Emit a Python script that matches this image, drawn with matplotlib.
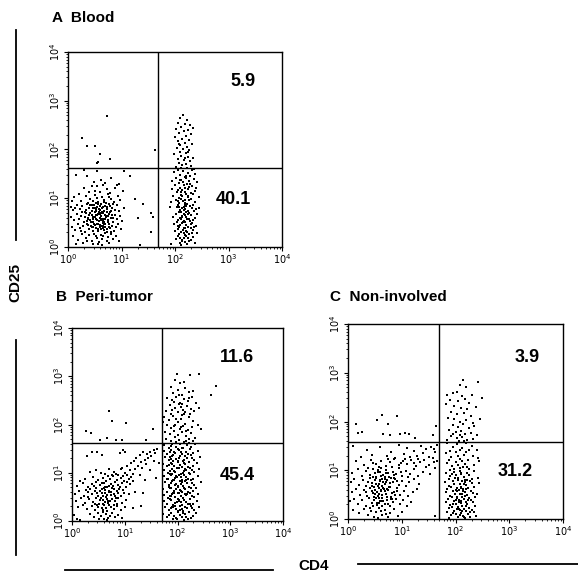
import numpy as np
import matplotlib
matplotlib.use("Agg")
import matplotlib.pyplot as plt
from matplotlib.ticker import FixedLocator, LogLocator, NullFormatter

plt.rcParams['font.family'] = ['Liberation Sans', 'DejaVu Sans']

# ---------------- data (log10 decades: CD4, CD25) ----------------
panel_letters = ["A", "B", "C"]
panel_names = ["Blood", "Peri-tumor", "Non-involved"]
quadrant_upper = ["5.9", "11.6", "3.9"]
quadrant_lower = ["40.1", "45.4", "31.2"]
gate_cd4 = [1.68, 1.71, 1.69]
gate_cd25 = [1.62, 1.62, 1.58]
tick_labels = [r"$10^{0}$", r"$10^{1}$", r"$10^{2}$", r"$10^{3}$", r"$10^{4}$"]
x_label = "CD4"
y_label = "CD25"

a_neg = [(0.35,1.45),(0.62,1.38),(0.48,1.33),(0.80,1.41),(0.15,1.47),(0.95,1.30),(1.15,1.46),(0.70,1.32),
 (0.55,1.25),(0.72,1.18),(0.40,1.12),(0.88,1.22),(0.65,1.28),(0.30,1.20),(0.78,1.10),(0.50,1.15),(1.02,1.14),(0.60,1.12),(0.92,1.27),(0.45,1.26),
 (0.12,1.02),(0.25,0.95),(0.33,1.05),(0.42,0.98),(0.50,1.07),(0.57,0.93),(0.63,1.03),(0.68,0.96),(0.74,1.08),(0.80,0.99),(0.86,0.92),(0.93,1.04),(0.20,1.08),(0.38,0.91),(0.47,0.94),(0.55,1.00),(0.71,0.91),(0.77,1.02),(0.08,0.94),(0.98,0.97),(1.25,0.98),(1.40,0.88),
 (0.05,0.82),(0.10,0.75),(0.16,0.87),(0.22,0.78),(0.27,0.84),(0.31,0.72),(0.36,0.88),(0.40,0.80),(0.44,0.73),(0.48,0.86),(0.52,0.77),(0.55,0.83),(0.58,0.71),(0.61,0.88),(0.64,0.79),(0.67,0.74),(0.70,0.85),(0.73,0.78),(0.76,0.89),(0.79,0.72),(0.83,0.81),(0.87,0.76),(0.91,0.86),(0.96,0.73),(1.04,0.80),(0.34,0.76),(0.46,0.79),(0.57,0.89),(0.66,0.82),(0.72,0.71),(0.60,0.76),(0.50,0.72),(0.42,0.86),(0.26,0.71),(0.13,0.80),(0.85,0.88),(1.55,0.70),
 (0.06,0.62),(0.11,0.55),(0.17,0.67),(0.21,0.58),(0.25,0.64),(0.29,0.52),(0.33,0.69),(0.37,0.60),(0.41,0.55),(0.44,0.66),(0.47,0.51),(0.50,0.62),(0.53,0.57),(0.56,0.68),(0.58,0.53),(0.61,0.64),(0.63,0.58),(0.66,0.69),(0.68,0.51),(0.71,0.62),(0.74,0.56),(0.77,0.67),(0.81,0.59),(0.84,0.52),(0.88,0.65),(0.92,0.57),(0.97,0.63),(1.01,0.54),(0.39,0.65),(0.52,0.66),(0.59,0.60),(0.65,0.54),(0.70,0.57),(0.46,0.58),(0.31,0.61),(0.75,0.63),(0.55,0.55),(0.62,0.69),(0.43,0.52),(0.82,0.66),(0.35,0.54),(1.30,0.60),
 (0.08,0.42),(0.14,0.35),(0.19,0.47),(0.23,0.38),(0.28,0.44),(0.32,0.31),(0.36,0.48),(0.40,0.36),(0.43,0.43),(0.47,0.33),(0.50,0.46),(0.53,0.39),(0.56,0.32),(0.59,0.45),(0.62,0.37),(0.65,0.49),(0.67,0.34),(0.70,0.42),(0.73,0.30),(0.76,0.47),(0.79,0.38),(0.83,0.44),(0.86,0.33),(0.90,0.41),(0.94,0.48),(0.99,0.36),(0.54,0.48),(0.60,0.41),(0.66,0.43),(0.72,0.36),(0.45,0.40),(0.38,0.45),(0.57,0.35),(0.68,0.47),(0.25,0.33),(0.81,0.31),
 (0.10,0.22),(0.18,0.15),(0.26,0.26),(0.33,0.18),(0.39,0.24),(0.44,0.12),(0.49,0.27),(0.54,0.19),(0.58,0.11),(0.61,0.25),(0.64,0.17),(0.69,0.28),(0.72,0.13),(0.75,0.21),(0.80,0.26),(0.85,0.16),(0.90,0.23),(0.96,0.12),(0.52,0.23),(0.66,0.22),(0.36,0.13),(0.28,0.08),(0.57,0.06),(0.77,0.09),(0.64,0.05),(0.47,0.07),(0.15,0.06),(1.35,0.04),
 (0.73,2.69),(0.27,2.24),(0.36,2.07),(0.50,2.07),(0.60,1.91),(0.79,1.81),(0.54,1.72),(0.57,1.74),(1.63,1.99),(0.55,1.55),(0.30,1.58),(1.05,1.55),(1.59,0.62),(1.55,0.30)]

a_core = [(0.47,0.62),(0.58,0.78),(0.63,0.44),(0.69,0.66),(0.52,0.91),(0.74,0.52),(0.41,0.70),(0.56,0.37),(0.81,0.73),(0.66,0.58),(0.60,0.84),(0.49,0.48),(0.72,0.82),(0.54,0.65),(0.77,0.41),(0.44,0.87),(0.62,0.55),(0.68,0.93),(0.37,0.57),(0.85,0.60),(0.57,0.47),(0.64,0.71),(0.51,0.79),(0.73,0.63),(0.46,0.42),(0.79,0.85),(0.59,0.67),(0.70,0.48),(0.53,0.73),(0.65,0.38),
 (2.12,1.13),(2.19,0.97),(2.08,0.83),(2.25,0.68),(2.15,0.51),(2.21,0.33),(2.10,0.19),(2.27,1.24),(2.17,0.75),(2.06,0.44),(2.23,0.89),(2.13,0.62),(2.29,0.48),(2.18,0.24),(2.09,1.37),(2.24,1.05),(2.16,0.38),(2.11,0.71),(2.26,0.57),(2.20,1.41),(2.14,0.13),(2.05,0.95),(2.31,0.29),(2.19,0.86)]

a_pos = [(2.15,2.70),(2.10,2.64),(2.22,2.60),(2.05,2.55),(2.18,2.52),(2.28,2.50),(2.12,2.46),(2.02,2.42),(2.24,2.40),(2.16,2.37),(2.08,2.33),(2.30,2.31),(2.20,2.28),(2.00,2.25),(2.13,2.22),(2.26,2.20),(2.06,2.17),(2.18,2.14),(2.32,2.12),(2.10,2.09),(2.22,2.06),(2.03,2.03),(2.15,2.00),(2.27,1.98),(2.09,1.95),(2.20,1.92),(1.98,1.90),(2.12,1.87),(2.24,1.85),(2.34,1.83),(2.05,1.80),(2.17,1.78),(2.28,1.76),(2.08,1.73),(2.20,1.71),(2.14,1.69),(2.30,1.67),(2.02,1.65),(2.23,1.63),(2.11,1.62),(2.36,1.61),(2.19,1.82),(2.25,1.94),(2.07,2.12),(2.33,2.44),
 (2.05,1.58),(2.15,1.55),(2.25,1.52),(2.32,1.57),(2.10,1.48),(2.20,1.46),(2.38,1.50),(1.98,1.53),(2.28,1.45),
 (2.02,1.42),(2.12,1.38),(2.18,1.43),(2.26,1.35),(2.35,1.40),(2.08,1.32),(2.22,1.30),(2.42,1.33),(1.95,1.36),(2.15,1.34),
 (2.00,1.27),(2.09,1.22),(2.16,1.28),(2.24,1.18),(2.31,1.25),(2.40,1.20),(2.05,1.16),(2.19,1.21),(2.28,1.29),(2.13,1.17),(1.94,1.19),
 (2.03,1.12),(2.11,1.06),(2.18,1.13),(2.25,1.02),(2.33,1.09),(2.07,1.01),(2.21,1.08),(2.37,1.14),(2.14,1.04),(2.29,1.11),(1.97,1.05),(2.44,1.03),
 (2.01,0.97),(2.08,0.90),(2.15,0.95),(2.22,0.88),(2.30,0.99),(2.38,0.92),(2.05,0.86),(2.18,0.91),(2.26,0.96),(2.12,0.98),(2.34,0.87),(1.92,0.93),(2.20,0.85),
 (2.04,0.82),(2.10,0.76),(2.17,0.83),(2.24,0.74),(2.31,0.80),(2.40,0.77),(2.07,0.71),(2.14,0.79),(2.21,0.72),(2.28,0.84),(2.36,0.73),(1.90,0.82),(2.19,0.78),(2.45,0.81),
 (2.02,0.67),(2.09,0.60),(2.16,0.68),(2.23,0.57),(2.30,0.65),(2.38,0.59),(2.06,0.56),(2.13,0.64),(2.20,0.61),(2.27,0.69),(2.34,0.55),(1.96,0.62),(2.18,0.66),(2.42,0.67),(2.11,0.58),
 (2.03,0.52),(2.10,0.45),(2.17,0.53),(2.24,0.42),(2.31,0.50),(2.39,0.44),(2.07,0.41),(2.14,0.49),(2.21,0.46),(2.28,0.54),(2.35,0.40),(1.99,0.47),(2.19,0.51),
 (2.05,0.37),(2.12,0.30),(2.19,0.38),(2.26,0.27),(2.33,0.35),(2.41,0.29),(2.08,0.26),(2.15,0.34),(2.22,0.31),(2.29,0.39),(2.00,0.32),(2.17,0.28),
 (2.06,0.22),(2.13,0.15),(2.20,0.23),(2.27,0.12),(2.34,0.20),(2.09,0.08),(2.16,0.19),(2.23,0.06),(2.30,0.14),(2.02,0.17),(2.38,0.09),(2.18,0.11),(2.11,0.04),(2.25,0.18),(1.93,0.07)]

b_neg = [(0.70,2.28),(0.76,2.07),(1.02,2.03),(0.27,1.87),(0.36,1.82),(0.53,1.68),(0.66,1.72),(0.83,1.68),(0.95,1.68),(1.40,1.68),(1.54,1.91),
 (1.62,1.50),(1.55,1.47),(1.48,1.44),(1.58,1.40),(1.42,1.38),(1.35,1.42),(1.50,1.35),(1.28,1.36),(1.45,1.30),(1.38,1.27),(1.22,1.31),(1.30,1.22),(1.18,1.25),(1.55,1.25),(1.12,1.20),(1.25,1.15),(1.40,1.18),(1.05,1.13),(1.20,1.08),(1.33,1.10),(1.10,1.05),(1.00,1.00),(1.15,0.97),(1.48,1.05),(1.60,0.90),(1.28,0.95),(0.95,1.10),(1.38,0.85),(1.65,1.20),
 (0.38,1.43),(0.47,1.43),(0.57,1.37),(0.91,1.40),(0.96,1.48),(1.00,1.44),(0.28,1.35),
 (0.45,1.05),(0.62,0.98),(0.70,1.08),(0.80,1.02),(0.88,0.96),(0.55,1.00),(0.92,1.08),(0.75,0.95),(0.35,1.02),(1.05,0.96),
 (0.25,0.88),(0.40,0.92),(0.50,0.85),(0.58,0.90),(0.65,0.82),(0.72,0.88),(0.78,0.93),(0.85,0.84),(0.92,0.89),(0.98,0.82),(1.08,0.88),(0.45,0.81),(0.68,0.94),(0.82,0.80),(0.15,0.83),(1.15,0.83),
 (0.10,0.72),(0.20,0.78),(0.30,0.70),(0.38,0.76),(0.46,0.68),(0.53,0.75),(0.60,0.79),(0.66,0.70),(0.73,0.77),(0.80,0.67),(0.87,0.74),(0.94,0.79),(1.02,0.70),(0.57,0.66),(0.70,0.73),(0.42,0.72),(0.90,0.66),(0.35,0.66),(1.10,0.76),(0.62,0.71),(0.77,0.72),
 (0.05,0.55),(0.14,0.62),(0.22,0.52),(0.31,0.60),(0.38,0.55),(0.44,0.63),(0.50,0.51),(0.56,0.58),(0.62,0.64),(0.67,0.53),(0.73,0.60),(0.79,0.56),(0.85,0.63),(0.92,0.52),(0.99,0.59),(1.08,0.55),(0.47,0.57),(0.59,0.52),(0.70,0.62),(0.27,0.64),(0.82,0.51),(0.53,0.62),(1.20,0.60),(1.35,0.58),
 (0.08,0.42),(0.17,0.47),(0.25,0.38),(0.33,0.45),(0.40,0.40),(0.46,0.48),(0.52,0.36),(0.58,0.43),(0.64,0.49),(0.69,0.38),(0.75,0.45),(0.81,0.41),(0.88,0.47),(0.95,0.37),(1.03,0.44),(0.55,0.47),(0.62,0.39),(0.72,0.42),(0.43,0.35),(0.30,0.49),(0.85,0.36),(0.66,0.45),
 (0.12,0.28),(0.20,0.33),(0.29,0.24),(0.37,0.31),(0.44,0.22),(0.50,0.30),(0.56,0.26),(0.61,0.33),(0.67,0.21),(0.73,0.29),(0.79,0.25),(0.86,0.32),(0.93,0.23),(1.00,0.30),(0.58,0.22),(0.70,0.34),(0.47,0.34),(1.15,0.27),(1.30,0.32),
 (0.03,0.12),(0.10,0.05),(0.35,0.15),(0.42,0.08),(0.49,0.17),(0.55,0.10),(0.60,0.04),(0.64,0.14),(0.69,0.07),(0.75,0.16),(0.81,0.09),(0.88,0.13),(0.58,0.18),(0.66,0.02),(0.52,0.05),(0.72,0.11),(0.15,0.03),(0.95,0.06)]

b_core = [(0.63,0.57),(0.76,0.68),(0.84,0.48),(0.57,0.79),(0.91,0.71),(0.68,0.41),(0.97,0.93),(0.72,0.87),(0.54,0.44),(0.87,0.58),(0.79,0.33),(0.61,0.69),(1.05,0.81),(0.74,0.53),(0.65,0.27),(0.96,0.64),(0.83,0.97),(0.59,0.36),(1.12,0.91),(0.71,0.61),
 (1.94,1.44),(2.02,1.31),(1.89,1.18),(2.15,1.07),(1.97,0.94),(2.09,0.81),(1.86,0.68),(2.18,0.55),(2.03,0.42),(1.91,0.29),(2.11,0.16),(1.99,0.05),(2.24,0.36),(1.82,0.88),(2.06,0.62),(2.21,0.99),(1.95,0.74),(2.13,1.27),(1.88,0.51),(2.04,0.23),(2.17,0.85),(1.93,1.03),(2.08,1.51),(2.26,0.69),(1.96,0.32),(2.10,0.47),(1.85,1.33),(2.01,0.57),(2.16,0.09),(1.90,0.97),
 (1.97,2.12),(2.08,2.43),(1.89,2.31),(2.17,1.87),(2.03,2.62),(1.94,1.97),(2.12,2.21),(2.21,2.55)]

b_pos = [(1.99,3.05),(2.24,3.03),(2.41,3.05),(2.73,2.80),(2.64,2.62),(1.95,2.92),(2.05,2.85),(2.12,2.88),(1.88,2.78),(2.00,2.72),(2.15,2.75),(2.22,2.68),(1.92,2.65),(2.08,2.62),(2.30,2.70),
 (1.80,2.55),(1.90,2.50),(1.98,2.57),(2.05,2.45),(2.12,2.53),(2.20,2.48),(2.28,2.58),(1.85,2.40),(1.95,2.35),(2.02,2.42),(2.10,2.30),(2.18,2.38),(2.26,2.33),(2.35,2.45),(1.78,2.28),(1.88,2.22),(2.00,2.26),(2.08,2.20),(2.15,2.25),(2.24,2.22),(2.32,2.28),(2.40,2.35),(1.93,2.47),(2.06,2.37),
 (1.75,2.15),(1.84,2.10),(1.92,2.18),(2.00,2.05),(2.07,2.12),(2.14,2.02),(2.22,2.16),(2.30,2.08),(2.38,2.00),(1.80,1.98),(1.88,1.92),(1.96,2.00),(2.04,1.90),(2.11,1.96),(2.19,1.88),(2.27,1.94),(1.76,1.85),(1.85,1.80),(1.93,1.86),(2.01,1.78),(2.09,1.84),(2.17,1.76),(2.25,1.82),(2.34,1.72),(1.78,1.70),(1.87,1.66),(1.95,1.74),(2.03,1.68),(2.12,1.64),(2.21,1.70),(2.29,1.65),(1.98,1.63),(2.06,1.95),(2.44,1.90),(1.73,2.05),(2.16,1.66),
 (1.75,1.58),(1.83,1.52),(1.90,1.60),(1.97,1.54),(2.04,1.59),(2.11,1.51),(2.18,1.57),(2.26,1.53),(2.33,1.60),(1.87,1.56),(2.00,1.50),(2.22,1.61),
 (1.74,1.45),(1.81,1.39),(1.88,1.47),(1.95,1.41),(2.02,1.48),(2.09,1.38),(2.16,1.44),(2.23,1.49),(2.30,1.40),(2.38,1.46),(1.92,1.37),(2.06,1.43),(2.20,1.39),(1.85,1.42),
 (1.76,1.32),(1.83,1.26),(1.90,1.34),(1.97,1.28),(2.04,1.35),(2.11,1.25),(2.18,1.31),(2.25,1.36),(2.32,1.27),(2.42,1.33),(1.87,1.29),(2.00,1.24),(2.14,1.35),(2.28,1.30),
 (1.73,1.19),(1.80,1.13),(1.87,1.21),(1.94,1.15),(2.01,1.22),(2.08,1.12),(2.15,1.18),(2.22,1.23),(2.29,1.14),(2.37,1.20),(1.91,1.24),(2.05,1.16),(2.19,1.11),(1.84,1.17),(2.12,1.21),
 (1.75,1.06),(1.82,1.00),(1.89,1.08),(1.96,1.02),(2.03,1.09),(2.10,0.99),(2.17,1.05),(2.24,1.10),(2.31,1.01),(2.40,1.07),(1.86,1.04),(1.99,1.10),(2.13,1.03),(2.27,1.06),(2.06,0.98),
 (1.74,0.93),(1.81,0.87),(1.88,0.95),(1.95,0.89),(2.02,0.96),(2.09,0.86),(2.16,0.92),(2.23,0.97),(2.30,0.88),(2.38,0.94),(1.92,0.85),(2.06,0.91),(2.20,0.87),(1.85,0.97),(2.13,0.95),(1.99,0.92),
 (1.76,0.80),(1.83,0.74),(1.90,0.82),(1.97,0.76),(2.04,0.83),(2.11,0.73),(2.18,0.79),(2.25,0.84),(2.32,0.75),(2.44,0.81),(1.87,0.78),(2.00,0.72),(2.14,0.82),(2.28,0.78),(2.07,0.77),(1.94,0.84),
 (1.73,0.67),(1.80,0.61),(1.87,0.69),(1.94,0.63),(2.01,0.70),(2.08,0.60),(2.15,0.66),(2.22,0.71),(2.29,0.62),(2.36,0.68),(1.91,0.59),(2.05,0.65),(2.19,0.61),(1.84,0.71),(2.12,0.69),(1.98,0.66),
 (1.75,0.54),(1.82,0.48),(1.89,0.56),(1.96,0.50),(2.03,0.57),(2.10,0.47),(2.17,0.53),(2.24,0.58),(2.31,0.49),(2.39,0.55),(1.86,0.52),(2.00,0.46),(2.14,0.56),(2.27,0.52),(2.07,0.51),(1.93,0.58),
 (1.74,0.41),(1.81,0.35),(1.88,0.43),(1.95,0.37),(2.02,0.44),(2.09,0.34),(2.16,0.40),(2.23,0.45),(2.30,0.36),(2.37,0.42),(1.92,0.33),(2.06,0.39),(2.20,0.35),(1.85,0.45),(2.13,0.43),(1.99,0.40),
 (1.76,0.28),(1.83,0.22),(1.90,0.30),(1.97,0.24),(2.04,0.31),(2.11,0.21),(2.18,0.27),(2.25,0.32),(2.32,0.23),(2.41,0.29),(1.87,0.26),(2.01,0.20),(2.15,0.30),(2.28,0.26),(2.08,0.25),
 (1.73,0.15),(1.80,0.09),(1.87,0.17),(1.94,0.11),(2.01,0.18),(2.08,0.08),(2.15,0.14),(2.22,0.19),(2.29,0.10),(2.36,0.16),(1.91,0.04),(2.05,0.13),(2.19,0.05),(1.84,0.12),(2.12,0.03),(1.98,0.07),(2.26,0.06)]

c_neg = [(0.15,1.95),(0.19,1.76),(0.26,1.78),(0.63,2.14),(0.54,2.04),(0.74,1.95),(0.91,2.12),(0.65,1.74),(0.78,1.72),(0.97,1.74),(1.06,1.77),(1.13,1.75),(1.24,1.67),(1.58,1.72),(1.64,1.90),
 (0.10,1.50),(0.35,1.42),(0.60,1.48),(0.80,1.38),(0.95,1.52),(1.10,1.45),(1.22,1.40),(1.35,1.50),(1.45,1.43),(1.55,1.48),(1.65,1.52),(1.05,1.33),(1.28,1.30),(1.40,1.35),(1.50,1.28),(1.62,1.38),(0.72,1.30),(1.15,1.27),(0.45,1.32),(1.58,1.25),(0.25,1.28),(0.88,1.26),
 (0.15,1.18),(0.30,1.10),(0.42,1.22),(0.52,1.12),(0.62,1.20),(0.70,1.08),(0.78,1.17),(0.86,1.23),(0.94,1.10),(1.02,1.19),(1.10,1.12),(1.18,1.22),(1.26,1.08),(1.34,1.16),(1.42,1.21),(1.50,1.10),(1.60,1.17),(0.58,1.06),(0.82,1.07),(1.06,1.24),(1.30,1.23),(0.47,1.15),(0.98,1.15),(1.22,1.14),(1.45,1.06),(0.74,1.24),
 (0.08,0.95),(0.18,1.02),(0.26,0.88),(0.33,0.98),(0.40,0.91),(0.47,1.03),(0.53,0.86),(0.59,0.96),(0.65,0.90),(0.71,1.01),(0.77,0.87),(0.83,0.97),(0.89,0.92),(0.95,1.04),(1.01,0.88),(1.08,0.99),(1.15,0.93),(1.23,1.02),(1.31,0.89),(1.40,0.97),(1.52,0.93),(0.62,1.04),(0.74,0.94),(0.86,0.85),(0.50,0.94),(0.38,1.04),(1.12,0.86),(0.98,0.96),(0.68,0.86),(0.56,1.00),
 (0.05,0.75),(0.12,0.82),(0.20,0.70),(0.27,0.79),(0.34,0.68),(0.40,0.84),(0.45,0.73),(0.50,0.80),(0.55,0.67),(0.60,0.77),(0.64,0.83),(0.68,0.71),(0.73,0.79),(0.78,0.66),(0.83,0.75),(0.88,0.82),(0.94,0.70),(1.00,0.78),(1.07,0.68),(1.14,0.76),(1.22,0.83),(1.32,0.72),(0.48,0.66),(0.58,0.72),(0.70,0.76),(0.53,0.84),(0.80,0.84),(0.37,0.75),(0.63,0.68),(0.91,0.77),
 (0.07,0.55),(0.14,0.62),(0.22,0.50),(0.29,0.59),(0.35,0.47),(0.41,0.63),(0.46,0.53),(0.51,0.60),(0.56,0.48),(0.61,0.57),(0.66,0.64),(0.70,0.51),(0.75,0.59),(0.80,0.46),(0.85,0.56),(0.91,0.63),(0.97,0.50),(1.04,0.58),(1.12,0.47),(1.20,0.55),(0.54,0.55),(0.63,0.50),(0.72,0.62),(0.44,0.58),(0.58,0.64),(0.33,0.56),(0.88,0.49),(0.68,0.57),(0.49,0.46),(1.28,0.62),
 (0.04,0.36),(0.11,0.42),(0.19,0.30),(0.26,0.39),(0.33,0.27),(0.39,0.43),(0.44,0.33),(0.49,0.40),(0.54,0.28),(0.59,0.37),(0.64,0.44),(0.68,0.31),(0.73,0.39),(0.78,0.26),(0.84,0.35),(0.90,0.42),(0.96,0.30),(1.03,0.38),(1.10,0.27),(1.18,0.34),(0.57,0.33),(0.47,0.26),(0.66,0.37),(0.52,0.44),(0.81,0.41),
 (0.09,0.18),(0.21,0.12),(0.30,0.21),(0.37,0.08),(0.43,0.17),(0.48,0.05),(0.53,0.14),(0.58,0.22),(0.63,0.09),(0.68,0.18),(0.74,0.04),(0.79,0.13),(0.86,0.20),(0.93,0.07),(1.00,0.15),(0.55,0.03),(0.61,0.16),(0.70,0.11),(1.62,0.06),(0.40,0.23),
 (1.66,1.20),(1.62,1.05),(1.60,1.44)]

c_core = [(0.52,0.71),(0.61,0.59),(0.69,0.82),(0.57,0.43),(0.76,0.65),(0.47,0.87),(0.64,0.36),(0.82,0.53),(0.55,0.97),(0.72,0.45),(0.59,0.79),(0.67,0.62),(0.86,0.91),(0.50,0.52),(0.78,0.73),(0.63,0.27),(0.44,0.68),(0.92,0.58),(0.71,0.94),(0.58,0.51),(0.66,0.75),(0.54,0.33),(0.80,0.41),(0.62,0.88),(0.75,0.31),
 (2.11,0.63),(2.17,0.48),(2.06,0.34),(2.13,0.17),(2.22,0.81),(2.03,0.57),(2.19,0.27),(2.09,0.09),(2.15,0.72),(2.24,0.39),(1.99,0.85),(2.12,0.52),(2.07,0.21),(2.20,0.61),(2.16,0.04),(2.02,0.46),(2.27,0.15),(2.10,0.95),(1.96,0.30),(2.14,1.06)]

c_pos = [(2.14,2.85),(2.42,2.81),(2.08,2.75),(2.20,2.70),(1.85,2.55),(1.95,2.58),(2.02,2.60),(2.12,2.52),(2.30,2.55),(2.50,2.48),(1.90,2.45),(2.05,2.42),(2.18,2.46),(2.25,2.38),(1.82,2.35),(1.98,2.32),(2.10,2.28),(2.22,2.25),(2.38,2.30),(1.92,2.20),(2.03,2.15),(2.15,2.18),(2.28,2.12),(1.86,2.08),(1.98,2.05),(2.08,2.00),(2.20,2.03),(2.32,1.97),(2.45,2.05),(1.95,1.92),(2.05,1.88),(2.14,1.94),(2.25,1.86),(2.35,1.90),(1.88,1.82),(2.00,1.78),(2.10,1.80),(2.18,1.74),(2.28,1.76),(2.40,1.72),(1.92,1.70),(2.02,1.66),(2.12,1.68),(2.22,1.63),(2.32,1.65),(1.85,1.62),(2.06,1.60),(2.16,1.59),(1.96,1.74),(2.08,1.72),
 (1.85,1.55),(1.95,1.48),(2.03,1.53),(2.12,1.45),(2.20,1.56),(2.30,1.50),(2.40,1.42),(1.90,1.40),(2.08,1.42),(2.25,1.41),
 (1.82,1.35),(1.92,1.28),(2.00,1.37),(2.08,1.24),(2.16,1.32),(2.24,1.22),(2.33,1.30),(1.88,1.21),(2.04,1.30),(2.20,1.38),(2.42,1.26),
 (1.84,1.15),(1.93,1.08),(2.01,1.17),(2.09,1.04),(2.17,1.12),(2.25,1.02),(2.34,1.10),(2.43,1.18),(1.89,1.01),(2.05,1.10),(2.13,1.19),(2.21,1.07),(1.97,1.03),
 (1.83,0.95),(1.90,0.88),(1.97,0.97),(2.04,0.84),(2.11,0.92),(2.18,0.81),(2.26,0.90),(2.34,0.98),(2.42,0.85),(1.87,0.82),(2.01,0.91),(2.08,0.99),(2.15,0.86),(2.22,0.95),(1.94,0.93),(2.30,0.83),
 (1.81,0.75),(1.88,0.68),(1.95,0.77),(2.02,0.64),(2.08,0.72),(2.14,0.61),(2.20,0.70),(2.27,0.78),(2.35,0.66),(2.44,0.73),(1.85,0.62),(1.98,0.71),(2.05,0.79),(2.11,0.66),(2.17,0.75),(2.24,0.63),(1.92,0.65),(2.00,0.60),(2.31,0.74),(2.13,0.77),
 (1.82,0.55),(1.89,0.48),(1.96,0.57),(2.03,0.44),(2.09,0.52),(2.15,0.41),(2.21,0.50),(2.28,0.58),(2.36,0.46),(1.86,0.42),(1.99,0.51),(2.06,0.59),(2.12,0.46),(2.18,0.55),(2.25,0.43),(1.93,0.45),(2.01,0.40),(2.32,0.54),(2.14,0.58),(2.40,0.52),
 (1.83,0.35),(1.90,0.28),(1.97,0.37),(2.04,0.24),(2.10,0.32),(2.16,0.21),(2.22,0.30),(2.29,0.38),(2.37,0.26),(1.87,0.22),(2.00,0.31),(2.07,0.39),(2.13,0.26),(2.19,0.35),(2.26,0.23),(1.94,0.25),(2.02,0.20),(2.33,0.34),(2.11,0.37),
 (1.84,0.15),(1.91,0.08),(1.98,0.17),(2.05,0.04),(2.11,0.12),(2.17,0.03),(2.23,0.10),(2.30,0.18),(2.38,0.06),(1.88,0.02),(2.01,0.11),(2.08,0.19),(2.14,0.07),(2.20,0.16),(2.27,0.05),(1.95,0.13),(2.35,0.14)]

panel_cells = [a_neg + a_core + a_pos, b_neg + b_core + b_pos, c_neg + c_core + c_pos]

# ---------------- layout ----------------
W, H = 578, 577
fig = plt.figure(figsize=(W / 100, H / 100), dpi=100)

def px_axes(x0, y0, x1, y1):
    return fig.add_axes([x0 / W, 1 - y1 / H, (x1 - x0) / W, (y1 - y0) / H])

boxes = [(68, 52, 282, 247), (72, 328, 283, 521), (348, 324, 563, 519)]
title_pos = [(52, 18), (56, 297), (330, 297)]
upper_pos = [(243, 82), (237, 357), (527, 357)]
lower_pos = [(233, 200), (237, 475), (515, 471)]

for i, box in enumerate(boxes):
    ax = px_axes(*box)
    pts = np.array(panel_cells[i])
    ax.scatter(10 ** pts[:, 0], 10 ** pts[:, 1], s=1.8, c='black', marker='s', linewidths=0)
    ax.set_xscale('log')
    ax.set_yscale('log')
    ax.set_xlim(1, 1e4)
    ax.set_ylim(1, 1e4)
    ax.axvline(10 ** gate_cd4[i], color='black', lw=1.0)
    ax.axhline(10 ** gate_cd25[i], color='black', lw=1.0)
    majors = [1, 10, 100, 1000, 10000]
    ax.xaxis.set_major_locator(FixedLocator(majors))
    ax.yaxis.set_major_locator(FixedLocator(majors))
    ax.xaxis.set_minor_locator(LogLocator(base=10, subs=np.arange(2, 10)))
    ax.yaxis.set_minor_locator(LogLocator(base=10, subs=np.arange(2, 10)))
    ax.xaxis.set_minor_formatter(NullFormatter())
    ax.yaxis.set_minor_formatter(NullFormatter())
    ax.set_xticklabels(tick_labels, fontsize=7)
    ax.set_yticklabels(tick_labels, fontsize=7, rotation=90, va='center')
    ax.tick_params(which='major', length=3, width=0.8, pad=1)
    ax.tick_params(which='minor', length=1.5, width=0.6)
    for sp in ax.spines.values():
        sp.set_linewidth(1.0)
    tx, ty = title_pos[i]
    fig.text(tx / W, 1 - ty / H, panel_letters[i] + "  " + panel_names[i],
             fontsize=11, fontweight='bold', va='center', ha='left')
    ux, uy = upper_pos[i]
    fig.text(ux / W, 1 - uy / H, quadrant_upper[i], fontsize=13, fontweight='bold', ha='center', va='center')
    lx, ly = lower_pos[i]
    fig.text(lx / W, 1 - ly / H, quadrant_lower[i], fontsize=13, fontweight='bold', ha='center', va='center')

# axis titles and decorative lines
fig.text(15 / W, 1 - 282 / H, y_label, rotation=90, fontsize=11, fontweight='bold', ha='center', va='center')
fig.text(314 / W, 1 - 566 / H, x_label, fontsize=11, fontweight='bold', ha='center', va='center')
line_ax = fig.add_axes([0, 0, 1, 1])
line_ax.set_xlim(0, W)
line_ax.set_ylim(H, 0)
line_ax.axis('off')
line_ax.plot([16, 16], [30, 240], color='black', lw=1.3)
line_ax.plot([16, 16], [340, 555], color='black', lw=1.3)
line_ax.plot([65, 273], [570, 570], color='black', lw=1.3)
line_ax.plot([358, 578], [564, 564], color='black', lw=1.3)

fig.savefig("out.png", dpi=100)
